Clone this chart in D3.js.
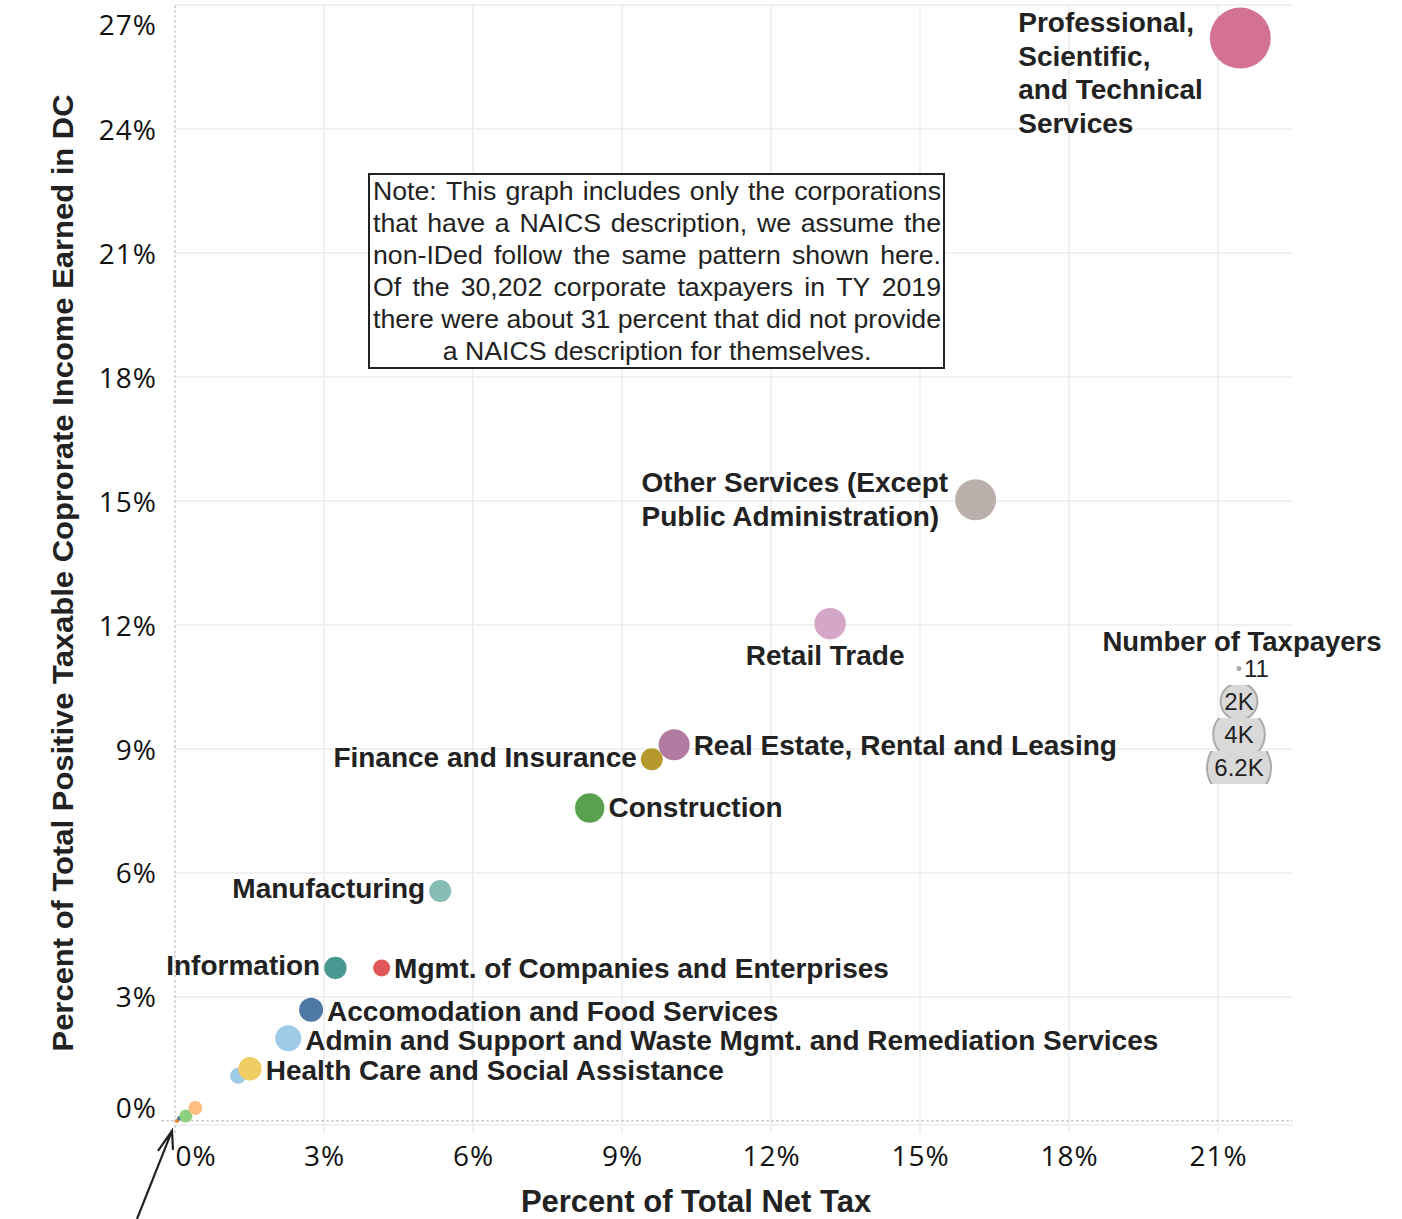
<!DOCTYPE html>
<html>
<head>
<meta charset="utf-8">
<script src="https://cdn.jsdelivr.net/npm/d3@7.9.0/dist/d3.min.js"></script>
<style>
  body { margin: 0; background: #fff; }
  svg { display: block; }
  .tick text { font-family: 'Open Sans', sans-serif; font-size: 28px; letter-spacing: 1px; fill: #111; }
  .label { font-family: 'Liberation Sans', Arial, sans-serif; font-weight: bold; font-size: 28px; fill: #222; }
  .note { font-family: 'Liberation Sans', Arial, sans-serif; font-size: 26.7px; fill: #222; }
  .axis-title { font-family: 'Liberation Sans', Arial, sans-serif; font-weight: bold; font-size: 31px; fill: #222; }
  .legend text { font-family: 'Liberation Sans', Arial, sans-serif; font-size: 24px; fill: #222; }
</style>
</head>
<body>
<svg id="chart" width="1402" height="1219"></svg>
<script>
// NAICS sectors ('' = small unlabeled sectors near the origin)
const industries = [
  '', '', '', '', '',
  'Health Care and Social Assistance',
  'Admin and Support and Waste Mgmt. and Remediation Services',
  'Accomodation and Food Services',
  'Mgmt. of Companies and Enterprises',
  'Information',
  'Manufacturing',
  'Construction',
  'Real Estate, Rental and Leasing',
  'Finance and Insurance',
  'Retail Trade',
  'Other Services (Except\nPublic Administration)',
  'Professional,\nScientific,\nand Technical\nServices',
];
// percent of total net tax
const netTaxPct = [0.04, 0.09, 0.22, 0.41, 1.27, 1.51, 2.28, 2.74, 4.16, 3.23, 5.34, 8.35, 10.05, 9.60, 13.19, 16.12, 21.45];
// percent of total positive taxable corporate income earned in DC
const incomePct = [0.0, 0.06, 0.12, 0.31, 1.09, 1.26, 2.0, 2.69, 3.70, 3.70, 5.56, 7.57, 9.10, 8.75, 12.03, 15.03, 26.2];
// number of taxpayers
const taxpayers = [3, 5, 156, 189, 264, 650, 826, 689, 306, 588, 564, 1089, 1225, 564, 1260, 2256, 5255];
const colors = ['#f28e2b', '#4e79a7', '#8cd17d', '#ffbe7d', '#a0cbe8', '#f1ce63', '#a0cbe8', '#4e79a7',
  '#e15759', '#499894', '#86bcb6', '#59a14f', '#b07aa1', '#b6992d', '#d4a6c8', '#bab0ac', '#d37295'];

// where each label sits relative to its mark, and a small vertical nudge
const labelSide = [null, null, null, null, null,
  'right', 'right', 'right', 'right', 'left', 'left', 'right', 'right', 'left', 'below', 'leftMiddle', 'leftTop'];
const labelNudge = [0, 0, 0, 0, 0, 1, 2, 1, 0, -3, -3, -1, 0, -2, 0, -1, 0];

const xTicks = [0, 3, 6, 9, 12, 15, 18, 21];
const yTicks = [0, 3, 6, 9, 12, 15, 18, 21, 24, 27];

const legendValues = [11, 2000, 4000, 6200];
const legendLabels = ['11', '2K', '4K', '6.2K'];

const noteLines = [
  'Note: This graph includes only the corporations',
  'that have a NAICS description, we assume the',
  'non-IDed follow the same pattern shown here.',
  'Of the 30,202 corporate taxpayers in TY 2019',
  'there were about 31 percent that did not provide',
  'a NAICS description for themselves.',
];

const svg = d3.select('#chart');
const pct = (d) => d + '%';

const xScale = d3.scaleLinear().domain([0, 22.5]).range([175, 1292.5]);
const yScale = d3.scaleLinear().domain([-0.1, 27]).range([1125, 5]);
const rScale = d3.scaleSqrt().domain([0, 6200]).range([1.5, 33]);

const plotLeft = xScale.range()[0], plotRight = xScale.range()[1];
const plotTop = yScale.range()[1], plotBottom = yScale.range()[0];

// gridlines
const grid = svg.append('g').attr('stroke', '#ececec').attr('stroke-width', 1.5);
grid.selectAll('.hg')
  .data(yTicks.filter((d) => d > 0))
  .join('line')
  .attr('x1', plotLeft).attr('x2', plotRight)
  .attr('y1', (d) => yScale(d)).attr('y2', (d) => yScale(d));
grid.append('line').attr('x1', plotLeft).attr('x2', plotRight).attr('y1', plotBottom).attr('y2', plotBottom);
grid.selectAll('.vg')
  .data(xTicks.filter((d) => d > 0))
  .join('line')
  .attr('x1', (d) => xScale(d)).attr('x2', (d) => xScale(d))
  .attr('y1', plotTop).attr('y2', plotBottom + 8);

// zero lines
const zero = svg.append('g').attr('stroke', '#b5b5b5').attr('stroke-width', 1).attr('stroke-dasharray', '3,2');
zero.append('line').attr('x1', xScale(0)).attr('x2', xScale(0)).attr('y1', plotTop).attr('y2', plotBottom + 8);
zero.append('line').attr('x1', plotLeft - 14).attr('x2', plotRight).attr('y1', yScale(0)).attr('y2', yScale(0));

// axes (labels only)
const xAxis = svg.append('g')
  .attr('transform', `translate(0, ${plotBottom + 31})`)
  .call(d3.axisBottom(xScale).tickValues(xTicks).tickFormat(pct).tickSize(0));
xAxis.select('.domain').remove();
xAxis.selectAll('text').attr('dy', '0.36em').attr('y', 0);
xAxis.selectAll('.tick').filter((d) => d === 0).select('text').attr('text-anchor', 'start').attr('x', 0);

const yAxis = svg.append('g')
  .attr('transform', `translate(${plotLeft - 18}, 0)`)
  .call(d3.axisLeft(yScale).tickValues(yTicks).tickFormat(pct).tickSize(0));
yAxis.select('.domain').remove();
yAxis.selectAll('text').attr('x', 0).attr('dy', '0.36em');
yAxis.selectAll('.tick').filter((d) => d === 27).select('text').attr('y', 19);
yAxis.selectAll('.tick').filter((d) => d === 0).select('text').attr('y', -13);

// axis titles
svg.append('text')
  .attr('class', 'axis-title')
  .attr('x', 696).attr('y', 1212)
  .attr('text-anchor', 'middle')
  .text('Percent of Total Net Tax');

svg.append('text')
  .attr('class', 'axis-title')
  .attr('transform', 'translate(73, 573) rotate(-90)')
  .attr('text-anchor', 'middle')
  .style('font-family', "'Liberation Sans Narrow', 'Liberation Sans', sans-serif")
  .style('font-size', '30px')
  .attr('textLength', 957)
  .attr('lengthAdjust', 'spacingAndGlyphs')
  .text('Percent of Total Positive Taxable Coprorate Income Earned in DC');

// note box
const note = svg.append('g');
note.append('rect')
  .attr('x', 369).attr('y', 174).attr('width', 575).attr('height', 194)
  .attr('fill', '#fff').attr('stroke', '#222').attr('stroke-width', 2);
const noteLeft = 373, noteRight = 941, noteTop = 200, noteStep = 32;
noteLines.forEach((line, i) => {
  const y = noteTop + i * noteStep;
  if (i === noteLines.length - 1) {
    note.append('text').attr('class', 'note').attr('x', (noteLeft + noteRight) / 2).attr('y', y)
      .attr('text-anchor', 'middle').text(line);
    return;
  }
  const words = line.split(' ');
  const nodes = words.map((w) => note.append('text').attr('class', 'note').attr('y', y).text(w));
  const widths = nodes.map((n) => n.node().getComputedTextLength());
  const space = (noteRight - noteLeft - d3.sum(widths)) / (words.length - 1);
  let x = noteLeft;
  nodes.forEach((n, j) => {
    n.attr('x', x);
    x += widths[j] + space;
  });
});

// points
const points = industries.map((name, i) => ({
  name,
  x: netTaxPct[i],
  y: incomePct[i],
  n: taxpayers[i],
  color: colors[i],
  side: labelSide[i],
  nudge: labelNudge[i],
}));

svg.append('g')
  .selectAll('circle')
  .data(points)
  .join('circle')
  .attr('cx', (d) => xScale(d.x))
  .attr('cy', (d) => yScale(d.y))
  .attr('r', (d) => rScale(d.n))
  .attr('fill', (d) => d.color);

// labels
const labels = svg.append('g');
const gap = 4, lineH = 33.5;
points.filter((d) => d.name).forEach((d) => {
  const cx = xScale(d.x), cy = yScale(d.y) + d.nudge, r = rScale(d.n);
  const lines = d.name.split('\n');
  const t = labels.append('text').attr('class', 'label');
  lines.forEach((l) => t.append('tspan').text(l));
  const tspans = t.selectAll('tspan');
  if (d.side === 'right' || d.side === 'left') {
    t.attr('x', d.side === 'right' ? cx + r + gap : cx - r - gap)
      .attr('y', cy)
      .attr('dy', '0.36em')
      .attr('text-anchor', d.side === 'right' ? 'start' : 'end');
  } else if (d.side === 'below') {
    t.attr('x', cx - 5).attr('y', cy + r + 16).attr('dy', '0.36em').attr('text-anchor', 'middle');
  } else {
    const w = d3.max(tspans.nodes(), (n) => n.getComputedTextLength());
    const x0 = cx - r - gap - 3 - w;
    const y0 = d.side === 'leftTop' ? cy - 16 : cy - ((lines.length - 1) * lineH) / 2;
    tspans.attr('x', x0).attr('y', (_, k) => y0 + k * lineH).attr('dy', '0.36em');
  }
});

// size legend
const legend = svg.append('g').attr('class', 'legend');
const legendX = 1239, legendTop = 652, rowH = 33;
legend.append('text')
  .attr('x', 1242).attr('y', 641).attr('dy', '0.36em')
  .attr('text-anchor', 'middle')
  .style('font-weight', 'bold').style('font-size', '27.5px')
  .text('Number of Taxpayers');

const defs = svg.append('defs');
legendValues.forEach((v, i) => {
  const cy = legendTop + rowH * i + rowH / 2;
  defs.append('clipPath').attr('id', 'row' + i)
    .append('rect').attr('x', legendX - 60).attr('y', legendTop + rowH * i).attr('width', 120).attr('height', rowH);
  const r = rScale(v);
  const small = i === 0;
  legend.append('circle')
    .attr('clip-path', `url(#row${i})`)
    .attr('cx', legendX).attr('cy', cy).attr('r', small ? 2.5 : r - 1)
    .attr('fill', small ? '#aaa' : '#d9d9d9')
    .attr('stroke', small ? 'none' : '#ababab')
    .attr('stroke-width', 2);
  legend.append('text')
    .attr('x', small ? legendX + 5 : legendX).attr('y', cy).attr('dy', '0.36em')
    .attr('text-anchor', small ? 'start' : 'middle')
    .text(legendLabels[i]);
});

// arrow pointing at the tiny marks at the origin
const tipX = xScale(0) - 3, tipY = yScale(0) + 10;
const arrow = d3.path();
arrow.moveTo(tipX - 35, 1219);
arrow.lineTo(tipX, tipY);
arrow.moveTo(tipX - 14, tipY + 20);
arrow.lineTo(tipX, tipY);
arrow.lineTo(tipX + 1, tipY + 19);
svg.append('path')
  .attr('d', arrow.toString())
  .attr('fill', 'none')
  .attr('stroke', '#222')
  .attr('stroke-width', 2.2);
</script>
</body>
</html>
